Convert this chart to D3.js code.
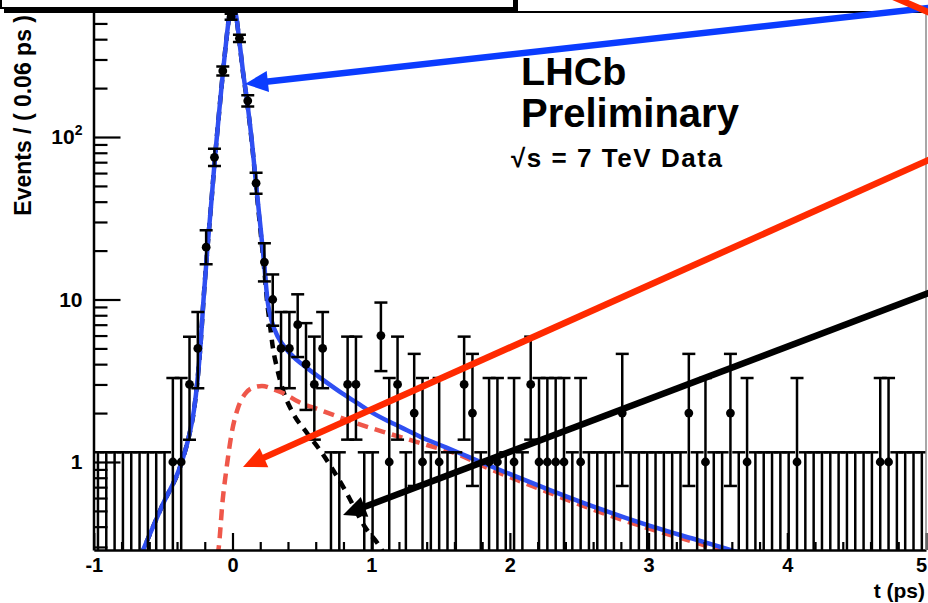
<!DOCTYPE html>
<html><head><meta charset="utf-8">
<script src="https://cdn.jsdelivr.net/npm/d3@7"></script>
<style>
body{margin:0;background:#fff}
svg{display:block}
text{font-family:"Liberation Sans",Arial,Helvetica,sans-serif;font-weight:bold;fill:#000}
</style>
</head><body>
<svg id="c" width="928" height="603"></svg>
<script>
// ---------------- data ----------------
const tStart = -1;          // first bin edge (ps)
const binWidth = 0.06;      // ps
// events per 0.06 ps bin, 100 bins from -1 to 5 ps
const counts = [
  0,0,0,0,0,0,0,0,0,1,
  1,3,5,21,75,255,550,405,167,52,
  17,10,5,5,7,4,3,5,0,0,
  3,3,0,0,6,1,3,0,2,1,
  0,1,0,0,3,2,0,1,1,0,
  1,0,3,1,1,1,1,0,1,0,
  0,0,0,2,0,0,0,0,0,0,
  0,2,0,1,0,0,2,0,1,0,
  0,0,0,0,1,0,0,0,0,0,
  0,0,0,0,1,1,0,0,0,0
];
// total fit (solid blue) [t, events]
const totalFit = [
  [-0.667,0.26],[-0.645,0.287],[-0.508,0.536],[-0.366,1.0],[-0.3136,1.445],[-0.2776,2.089],
  [-0.2523,3.196],[-0.2307,5.248],[-0.2091,9.93],[-0.1817,20.2],[-0.1514,40.9],[-0.126,75.3],[-0.097,140.5],
  [-0.068,255],[-0.043,406],[-0.022,563],[-0.004,622],[0.022,579],[0.047,406],[0.076,251],
  [0.105,167],[0.141,91.8],[0.169,52.1],[0.198,30.0],[0.227,17.0],[0.252,9.93],[0.285,7.27],
  [0.328,5.88],[0.393,4.89],[0.465,4.24],[0.537,3.79],[0.653,3.20],[0.775,2.70],[0.898,2.31],
  [1.013,2.00],[1.136,1.76],[1.258,1.57],[1.373,1.405],[1.496,1.272],[1.619,1.152],[1.806,0.986],
  [2.051,0.809],[2.289,0.672],[2.650,0.514],[3.010,0.404],[3.371,0.327],[3.565,0.2915],[3.659,0.275]
];
// long-lived signal component (red dashed)
const signalFit = [
  [-0.112,0.264],[-0.102,0.287],[-0.0707,0.584],[-0.0418,0.932],[-0.0058,1.508],[0.0418,2.18],
  [0.090,2.62],[0.1406,2.85],[0.2127,2.94],[0.292,2.81],[0.3785,2.62],[0.465,2.37],[0.631,2.09],
  [0.869,1.76],[1.114,1.508],[1.402,1.272],[1.640,1.104],[1.806,0.945],[2.051,0.775],[2.289,0.644],
  [2.650,0.492],[3.010,0.387],[3.371,0.313],[3.515,0.283],[3.6,0.265]
];
// prompt component (black dashed)
const promptFit = [
  [-0.667,0.26],[-0.645,0.287],[-0.508,0.536],[-0.366,1.0],[-0.3136,1.445],[-0.2776,2.089],
  [-0.2523,3.196],[-0.2307,5.248],[-0.2091,9.93],[-0.1817,20.2],[-0.1514,40.9],[-0.126,75.3],[-0.097,140.5],
  [-0.068,255],[-0.043,406],[-0.022,563],[-0.004,620],[0.022,577],[0.047,404],[0.076,249],
  [0.105,165],[0.141,90],[0.169,50.5],[0.198,28.5],[0.227,16.0],[0.25,9.6],[0.270,7.0],
  [0.292,5.0],[0.321,3.79],[0.364,2.77],[0.436,2.00],[0.537,1.508],[0.645,1.136],[0.7246,0.893],
  [0.811,0.672],[0.955,0.398],[1.063,0.300],[1.1,0.264]
];
// axis ticks
const xTicks = [-1,0,1,2,3,4,5];
const xTickLabels = ["-1","0","1","2","3","4","5"];
const xMinorTicks = [-0.8,-0.6,-0.4,-0.2,0.2,0.4,0.6,0.8,1.2,1.4,1.6,1.8,2.2,2.4,2.6,2.8,
  3.2,3.4,3.6,3.8,4.2,4.4,4.6,4.8];
const yTicks = [1,10,100];
const yTickLabels = ["1","10","10"];
const yTickSup = ["","","2"];
const yMinorTicks = [0.3,0.4,0.5,0.6,0.7,0.8,0.9,2,3,4,5,6,7,8,9,20,30,40,50,60,70,80,90,200,300,400,500];
// annotation arrows [t, events] tail -> head
const arrows = [
  {color:"#0b3cff", from:[5.534,697], to:[0.090,212]},
  {color:"#ff2a00", from:[5.534,113.6], to:[0.0757,0.932]},
  {color:"#000000", from:[5.534,16.07], to:[0.797,0.472]}
];
const redStub = {color:"#ff2a00", from:[4.668,791], to:[5.245,482]};

// ---------------- drawing ----------------
const svg = d3.select("#c");
const x = d3.scaleLinear().domain([-1,5]).range([93.8,926]);
const y = d3.scaleLog().domain([0.2873,588]).range([550,12]);
const L = 93.5, R = 926, T = 12, B = 550;

svg.append("defs").append("clipPath").attr("id","pc")
  .append("rect").attr("x",L).attr("y",T).attr("width",R-L).attr("height",B-T);

// legend box remnant (top-left)
svg.append("rect").attr("x",1).attr("y",-20).attr("width",513).attr("height",28)
  .attr("fill","#fff").attr("stroke","#000").attr("stroke-width",2);
svg.append("rect").attr("x",4).attr("y",8).attr("width",514).attr("height",5).attr("fill","#000");
svg.append("rect").attr("x",514).attr("y",-20).attr("width",4).attr("height",33).attr("fill","#000");

const plotG = svg.append("g").attr("clip-path","url(#pc)");
const line = d3.line().x(d=>x(d[0])).y(d=>y(d[1])).curve(d3.curveMonotoneX);

plotG.append("path").datum(promptFit).attr("d",line).attr("fill","none")
  .attr("stroke","#000").attr("stroke-width",4.5).attr("stroke-dasharray","9,7");
plotG.append("path").datum(signalFit).attr("d",line).attr("fill","none")
  .attr("stroke","#ef574a").attr("stroke-width",4.5).attr("stroke-dasharray","11,7");
plotG.append("path").datum(totalFit).attr("d",line).attr("fill","none")
  .attr("stroke","#2f4ff2").attr("stroke-width",4.5);

// data with Poisson error bars
function poissonInterval(n){
  if(n===0) return [0,1.147];
  const lo = n*Math.pow(1-1/(9*n)-1/(3*Math.sqrt(n)),3);
  const m = n+1;
  const hi = m*Math.pow(1-1/(9*m)+1/(3*Math.sqrt(m)),3);
  return [lo,hi];
}
const bins = counts.map((n,i)=>{
  const [lo,hi] = poissonInterval(n);
  return {t: tStart + binWidth*(i+0.5), n, lo, hi};
});
const capW = 6.5;
const dataG = plotG.append("g").attr("stroke","#000").attr("stroke-width",2.5);
bins.forEach(b=>{
  const cx = x(b.t);
  const yTop = y(b.hi);
  const yBot = b.lo>0 ? y(b.lo) : B+10;
  dataG.append("line").attr("x1",cx).attr("x2",cx).attr("y1",yBot).attr("y2",yTop);
  dataG.append("line").attr("x1",cx-capW).attr("x2",cx+capW).attr("y1",yTop).attr("y2",yTop);
  if(b.lo>0) dataG.append("line").attr("x1",cx-capW).attr("x2",cx+capW).attr("y1",yBot).attr("y2",yBot);
  if(b.n>0) dataG.append("circle").attr("cx",cx).attr("cy",y(b.n)).attr("r",4.4).attr("fill","#000").attr("stroke","none");
});

// axes
const axG = svg.append("g");
const xa = axG.append("g").attr("transform",`translate(0,${B})`)
  .call(d3.axisBottom(x).tickValues(xTicks).tickSizeInner(-17).tickSizeOuter(0).tickPadding(8)
    .tickFormat((d,i)=>xTickLabels[i]));
xa.selectAll(".tick text").filter(d=>d===5).attr("dx",-5);
const xm = axG.append("g").attr("transform",`translate(0,${B})`)
  .call(d3.axisBottom(x).tickValues(xMinorTicks).tickSizeInner(-8).tickSizeOuter(0).tickFormat(""));
xm.select(".domain").remove();
const ya = axG.append("g").attr("transform",`translate(${L},0)`)
  .call(d3.axisLeft(y).tickValues(yTicks).tickSizeInner(-27).tickSizeOuter(0).tickPadding(11)
    .tickFormat((d,i)=>yTickLabels[i]));
ya.selectAll(".tick text").each(function(d,i){
  if(yTickSup[i]) d3.select(this).append("tspan").attr("dy",-9).attr("font-size",14).text(yTickSup[i]);
});
const ym = axG.append("g").attr("transform",`translate(${L},0)`)
  .call(d3.axisLeft(y).tickValues(yMinorTicks).tickSizeInner(-14).tickSizeOuter(0).tickFormat(""));
ym.select(".domain").remove();
axG.selectAll(".domain").attr("stroke","#000").attr("stroke-width",2.5);
axG.selectAll(".tick line").attr("stroke","#000").attr("stroke-width",2.2);
xa.selectAll(".tick text").attr("font-size",20);
ya.selectAll(".tick text").attr("font-size",21);
svg.selectAll("g").filter(function(){return this.getAttribute("font-family");}).attr("font-family",null);

// frame top & right
svg.append("line").attr("x1",L).attr("x2",R).attr("y1",T).attr("y2",T).attr("stroke","#000").attr("stroke-width",2);
svg.append("line").attr("x1",R).attr("x2",R).attr("y1",T).attr("y2",B).attr("stroke","#8a8a8a").attr("stroke-width",1.5);

// titles
svg.append("text").attr("transform","translate(31,15) rotate(-90)").attr("text-anchor","end")
  .attr("font-size",23).text("Events / ( 0.06 ps )");
svg.append("text").attr("x",925).attr("y",598).attr("text-anchor","end").attr("font-size",21).text("t (ps)");

svg.append("text").attr("x",521).attr("y",85).attr("font-size",39.5).text("LHCb");
svg.append("text").attr("x",521).attr("y",127).attr("font-size",40).text("Preliminary");
svg.append("text").attr("x",511).attr("y",167).attr("font-size",26)
  .attr("textLength",211).attr("lengthAdjust","spacing").text("√s = 7 TeV Data");

// arrows
function drawArrow(a){
  const x1=x(a.from[0]), y1=y(a.from[1]), x2=x(a.to[0]), y2=y(a.to[1]);
  const dx=x2-x1, dy=y2-y1, len=Math.hypot(dx,dy), ux=dx/len, uy=dy/len;
  const hl=23, hw=10.5;
  const bx=x2-ux*hl, by=y2-uy*hl;
  svg.append("line").attr("x1",x1).attr("y1",y1).attr("x2",bx+ux*2).attr("y2",by+uy*2)
    .attr("stroke",a.color).attr("stroke-width",6.5);
  svg.append("polygon").attr("fill",a.color)
    .attr("points",[[x2,y2],[bx-uy*hw,by+ux*hw],[bx+uy*hw,by-ux*hw]].map(p=>p.join(",")).join(" "));
}
arrows.forEach(drawArrow);
svg.append("line").attr("x1",x(redStub.from[0])).attr("y1",y(redStub.from[1]))
  .attr("x2",x(redStub.to[0])).attr("y2",y(redStub.to[1]))
  .attr("stroke",redStub.color).attr("stroke-width",6.5);
</script>
</body></html>
